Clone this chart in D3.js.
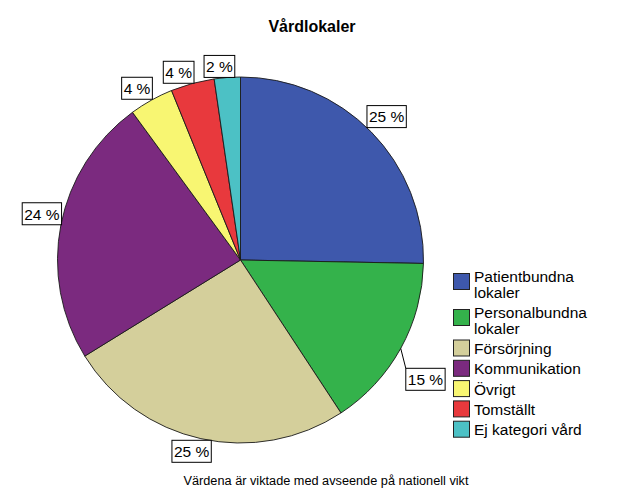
<!DOCTYPE html>
<html>
<head>
<meta charset="utf-8">
<script src="https://cdn.jsdelivr.net/npm/d3@7"></script>
<style>
  html, body { margin: 0; padding: 0; background: #fff; }
  svg { display: block; font-family: "Liberation Sans", Arial, sans-serif; }
</style>
</head>
<body>
<svg id="chart" width="624" height="499"></svg>
<script>
// ---- data ----
const categories = ["Patientbundna lokaler", "Personalbundna lokaler", "Försörjning",
                    "Kommunikation", "Övrigt", "Tomställt", "Ej kategori vård"];
const shares = [25.3, 15.45, 25.45, 23.75, 3.9, 3.85, 2.3];
const colors = ["#3E58AC", "#34B24B", "#D4CF9B", "#7B2A7F", "#F8F672", "#E8393D", "#4CC1C5"];
const titleText = "Vårdlokaler";
const footnote = "Värdena är viktade med avseende på nationell vikt";

// ---- layout (kept apart from data) ----
const W = 624, H = 499;
const cx = 240.5, cy = 260, R = 183;
const labelNudge = [[0, 0], [5, 20], [-6, -2], [2, -7], [-6, 3], [-10, 3], [-7, 1]];

const svg = d3.select("#chart");
svg.append("rect").attr("width", W).attr("height", H).attr("fill", "#fff");

svg.append("text").attr("x", 312).attr("y", 32).attr("text-anchor", "middle")
  .attr("font-size", 16).attr("font-weight", "bold").attr("fill", "#000").text(titleText);

const pie = d3.pie().sort(null).value(d => d).startAngle(0).endAngle(2 * Math.PI);
const arcs = pie(shares);
const arc = d3.arc().innerRadius(0).outerRadius(R);

const g = svg.append("g").attr("transform", `translate(${cx},${cy})`);
g.selectAll("path.slice").data(arcs).join("path")
  .attr("class", "slice")
  .attr("d", arc)
  .attr("fill", (d, i) => colors[i])
  .attr("stroke", "#1a1a1a").attr("stroke-width", 0.9).attr("stroke-linejoin", "round");

// labels
const boxH = 22;
const lab = g.append("g");
arcs.forEach((d, i) => {
  const a = (d.startAngle + d.endAngle) / 2;
  const ux = Math.sin(a), uy = -Math.cos(a);
  const txt = Math.round(shares[i]) + " %";
  const t = lab.append("text").attr("font-size", 15.5).attr("fill", "#000")
    .attr("text-anchor", "middle").text(txt);
  const tw = t.node().getComputedTextLength();
  const bw = tw + 4;
  const he = Math.abs(ux) * bw / 2 + Math.abs(uy) * boxH / 2;
  const rc = R + he;
  const bx = ux * rc + labelNudge[i][0];
  const by = uy * rc + labelNudge[i][1];
  const nudgeLen = Math.hypot(labelNudge[i][0], labelNudge[i][1]);
  if (nudgeLen > 12) {
    lab.insert("line", "text")
      .attr("x1", ux * R).attr("y1", uy * R)
      .attr("x2", bx - bw / 2 + 0).attr("y2", by - boxH / 2)
      .attr("stroke", "#000").attr("stroke-width", 1);
  }
  lab.insert("rect", "text")
    .attr("x", bx - bw / 2).attr("y", by - boxH / 2)
    .attr("width", bw).attr("height", boxH)
    .attr("fill", "#fff").attr("stroke", "#000").attr("stroke-width", 1);
  t.attr("x", bx).attr("y", by + 5.8);
});

// legend
const leg = svg.append("g");
const lineH = 15.7, gap = 4.6, maxW = 125;
let y = 270;
categories.forEach((name, i) => {
  // wrap words
  const words = name.split(" ");
  const probe = leg.append("text").attr("font-size", 15.5);
  const lines = [];
  let cur = "";
  words.forEach(w => {
    const test = cur ? cur + " " + w : w;
    probe.text(test);
    if (probe.node().getComputedTextLength() > maxW && cur) { lines.push(cur); cur = w; }
    else cur = test;
  });
  lines.push(cur);
  probe.remove();
  const sTop = y - 2 + (lines.length - 1) * 5.5;
  leg.append("rect").attr("x", 453.5).attr("y", sTop).attr("width", 16).attr("height", 16)
    .attr("fill", colors[i]).attr("stroke", "#222").attr("stroke-width", 1);
  const t = leg.append("text").attr("font-size", 15.5).attr("fill", "#000");
  lines.forEach((ln, k) => {
    t.append("tspan").attr("x", 474).attr("y", y + 12 + k * lineH).text(ln);
  });
  y += lines.length * lineH + gap;
});

svg.append("text").attr("x", 326).attr("y", 485).attr("text-anchor", "middle")
  .attr("font-size", 12).attr("fill", "#000")
  .attr("textLength", 285).attr("lengthAdjust", "spacingAndGlyphs")
  .text(footnote);
</script>
</body>
</html>
